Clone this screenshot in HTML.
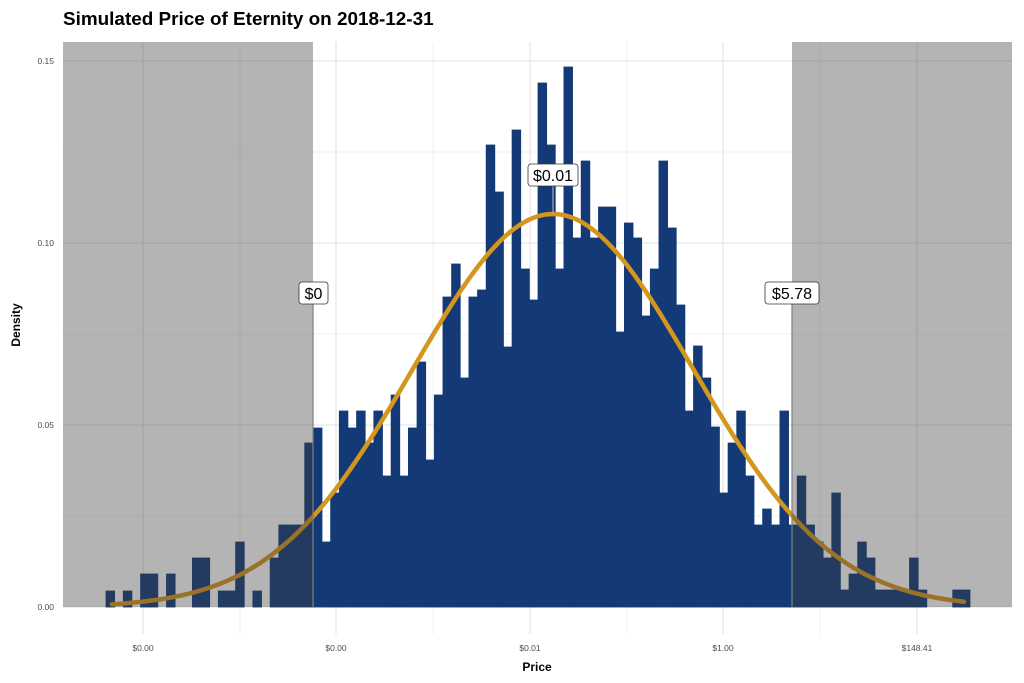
<!DOCTYPE html>
<html><head><meta charset="utf-8"><style>
html,body{margin:0;padding:0;background:#fff;}
svg{display:block;font-family:"Liberation Sans",sans-serif;}
</style></head><body>
<svg id="s" width="1024" height="683" xmlns="http://www.w3.org/2000/svg">
<rect width="1024" height="683" fill="#fff"/>
<g id="grid" stroke="#ebebeb"></g>
<g id="bars" fill="#133a76" stroke="#133a76" stroke-width="0.8"></g>
<path id="curve" fill="none" stroke="#d4961c" stroke-width="4.5" stroke-linecap="round"/>
<rect x="63" y="42" width="250" height="565" fill="#3f3f3f" fill-opacity="0.39"/>
<rect x="792" y="42" width="220" height="565" fill="#3f3f3f" fill-opacity="0.39"/>
<line x1="313" y1="303" x2="313" y2="607" stroke="#808080" stroke-width="1.2"/>
<line x1="792" y1="303" x2="792" y2="607" stroke="#808080" stroke-width="1.2"/>
<line x1="553" y1="186" x2="553" y2="214" stroke="#aaa" stroke-width="1.2"/>
<g font-size="16" text-anchor="middle" fill="#000">
<rect x="299" y="282" width="29" height="22" rx="3" fill="#fff" stroke="#333" stroke-width="0.8"/>
<text x="313.5" y="299">$0</text>
<rect x="528" y="164" width="50" height="22" rx="3" fill="#fff" stroke="#333" stroke-width="0.8"/>
<text x="553" y="181">$0.01</text>
<rect x="765" y="282" width="54" height="22" rx="3" fill="#fff" stroke="#333" stroke-width="0.8"/>
<text x="792" y="299">$5.78</text>
</g>
<g font-size="8.5" fill="#4d4d4d" text-anchor="end">
<text x="54" y="64">0.15</text><text x="54" y="246">0.10</text><text x="54" y="428">0.05</text><text x="54" y="610">0.00</text>
</g>
<g font-size="8.5" fill="#4d4d4d" text-anchor="middle">
<text x="143" y="651">$0.00</text><text x="336" y="651">$0.00</text><text x="530" y="651">$0.01</text><text x="723" y="651">$1.00</text><text x="917" y="651">$148.41</text>
</g>
<text x="537" y="671" font-size="12" font-weight="bold" text-anchor="middle">Price</text>
<text transform="translate(20,325) rotate(-90)" font-size="12" font-weight="bold" text-anchor="middle">Density</text>
<text x="63" y="25" font-size="18.9" font-weight="bold">Simulated Price of Eternity on 2018-12-31</text>
</svg>
<script>
var NS="http://www.w3.org/2000/svg";
function el(t,a,p){var e=document.createElementNS(NS,t);for(var k in a)e.setAttribute(k,a[k]);p.appendChild(e);return e;}
var g=document.getElementById('grid');
[152,334,516].forEach(function(y){el('line',{x1:63,x2:1012,y1:y,y2:y,'stroke-width':0.8},g);});
[61,243,425,607].forEach(function(y){el('line',{x1:63,x2:1012,y1:y,y2:y,'stroke-width':1.6},g);});
[240,433,627,820].forEach(function(x){el('line',{x1:x,x2:x,y1:42,y2:634,'stroke-width':0.8},g);});
[143,336,530,723,917].forEach(function(x){el('line',{x1:x,x2:x,y1:42,y2:634,'stroke-width':1.6},g);});
var tops=[591,607,591,607,574,574,607,574,607,607,558,558,607,591,591,542,607,591,607,558,525,525,525,443,428,542,493,411,428,411,443,411,476,395,476,428,362,460,395,297,264,378,297,290,145,192,347,130,269,300,83,145,269,67,238,161,238,207,207,332,223,238,316,269,161,228,305,411,346,378,427,493,443,411,476,525,509,525,411,525,476,525,542,558,493,590,574,542,558,590,590,590,590,558,590,607,607,607,590,590];
var b=document.getElementById('bars');
var w=8.64;
tops.forEach(function(t,i){if(t>=607)return;el('rect',{x:106+w*i,y:t,width:w,height:607-t},b);});
var d="";
for(var x=112;x<=965;x+=3){var y=607-393*Math.exp(-Math.pow(x-553,2)/(2*140*140));d+=(x==112?"M":"L")+x+","+y.toFixed(1);}
document.getElementById('curve').setAttribute('d',d);
</script>
</body></html>
